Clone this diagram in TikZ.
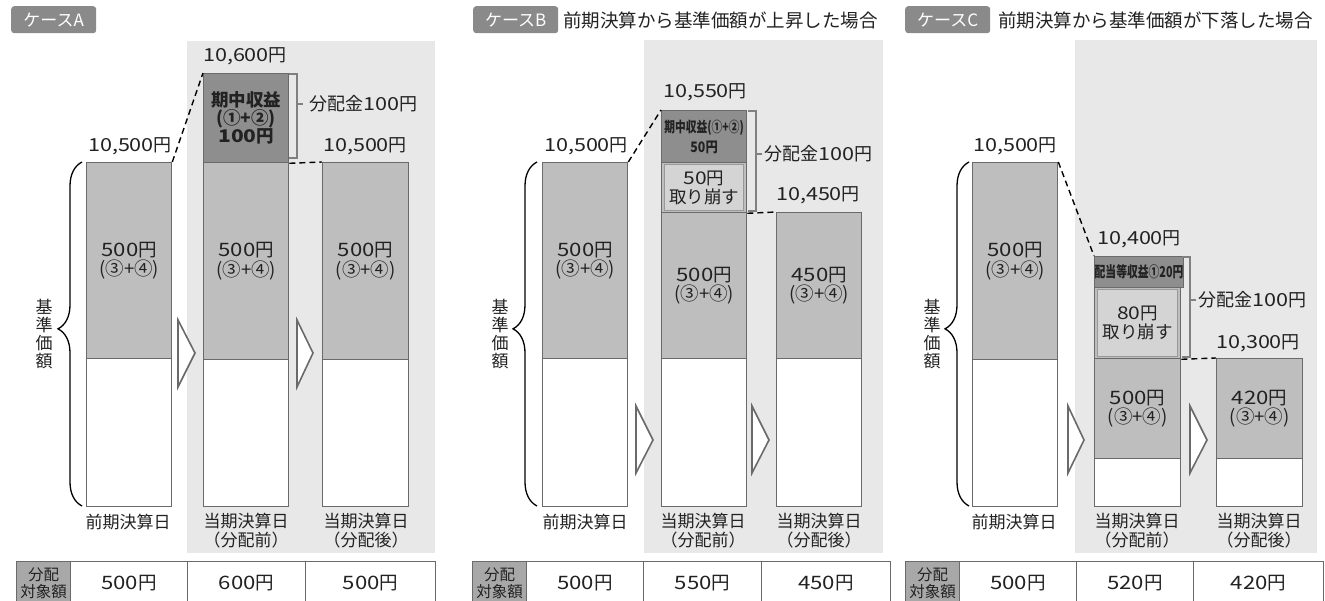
\documentclass[tikz,border=0pt]{standalone}
\usepackage{fontspec}
\setmainfont{Noto Sans CJK JP}
\newfontfamily\wfont[FakeStretch=1.2]{Noto Sans CJK JP}
\usetikzlibrary{decorations.pathreplacing}
\definecolor{bgshade}{HTML}{E8E8E8}
\definecolor{midg}{HTML}{BEBEBE}
\definecolor{darkg}{HTML}{8E8E8E}
\definecolor{lightg}{HTML}{D4D4D4}
\definecolor{tagg}{HTML}{8A8A8A}
\definecolor{lineg}{HTML}{6A6A6A}
\definecolor{hdrg}{HTML}{A8A8A8}
\definecolor{txt}{HTML}{222222}
\newcommand{\fs}[2]{\fontsize{#1}{#2}\selectfont}
\newcommand{\nm}[1]{{\wfont #1}}
\begin{document}
\begin{tikzpicture}[x=1pt,y=-1pt,
  blk/.style={draw=lineg, line width=1.3pt, inner sep=0pt, anchor=north west, align=center, text=txt, font=\fs{18.5}{19.5}},
  midb/.style={blk, fill=midg},
  darkb/.style={blk, fill=darkg},
  whiteb/.style={blk, fill=white},
  cutb/.style={blk, fill=lightg, draw=gray!80, line width=1pt, font=\fs{17.5}{19}},
  val/.style={font=\fs{18}{20}, text=txt, inner sep=0pt},
  dashc/.style={dash pattern=on 6pt off 4pt, line width=1.4pt, black},
  tagbox/.style={fill=tagg, rounded corners=3pt, text=white, font=\fs{17}{19}, minimum height=27pt, minimum width=85pt, inner sep=0pt, anchor=north west},
  title/.style={font=\fs{18.5}{20}, text=txt, inner sep=0pt, anchor=west},
  arr/.style={draw=lineg, line width=1.6pt, fill=white, line join=miter},
  brk/.style={draw=gray, line width=1.2pt},
  bigbrace/.style={decorate, decoration={brace, amplitude=24pt, aspect=0.515}, line width=1.3pt, black},
  vtext/.style={font=\fs{17}{18}, align=center, text=txt, inner sep=0pt},
  dlabel/.style={font=\fs{17}{19}, align=center, text=txt, inner sep=0pt},
  cell/.style={draw=lineg, line width=1pt, inner sep=0pt, anchor=north west, minimum height=44pt, font=\fs{18.5}{20}, text=txt},
  cellh/.style={cell, fill=hdrg, minimum width=54pt, font=\fs{15.5}{17}, align=center}
]
\clip (0,0) rectangle (1325,601);
\fill[white] (0,0) rectangle (1325,601);

% ---------- shaded backgrounds ----------
\fill[bgshade] (187,41) rectangle (435,553);
\fill[bgshade] (644,40) rectangle (883,553);
\fill[bgshade] (1075,40) rectangle (1317,553);

% ---------- headings ----------
\node[tagbox] (tA) at (11,6) {ケースA};
\node[tagbox] (tB) at (473,6) {ケースB};
\node[title] (hB) at (563,20) {前期決算から基準価額が上昇した場合};
\node[tagbox] (tC) at (905,6) {ケースC};
\node[title] (hC) at (998,20) {前期決算から基準価額が下落した場合};

% ================= CASE A =================
\node[midb, minimum width=85pt, minimum height=196pt] (a1m) at (86,162) {\nm{500}円\\(③+④)};
\node[whiteb, minimum width=85pt, minimum height=148pt] (a1w) at (86,358) {};
\node[darkb, minimum width=85pt, minimum height=89pt, font=\bfseries\fs{17.5}{18}] (a2d) at (203,73) {期中収益\\(①+②)\\\nm{100}円};
\node[midb, minimum width=85pt, minimum height=197pt] (a2m) at (203,162) {\nm{500}円\\(③+④)};
\node[whiteb, minimum width=85pt, minimum height=147pt] (a2w) at (203,359) {};
\node[midb, minimum width=86pt, minimum height=197pt] (a3m) at (322,162) {\nm{500}円\\(③+④)};
\node[whiteb, minimum width=86pt, minimum height=147pt] (a3w) at (322,359) {};

\node[val] (va1) at (130,146) {\nm{10,500}円};
\node[val] (va2) at (245,56) {\nm{10,600}円};
\node[val] (va3) at (365,146) {\nm{10,500}円};

\draw[dashc] (a1m.north east) -- (a2d.north west);
\draw[dashc] (a2d.south east) -- (a3m.north west);

\draw[brk] (289,74) -- (297,74) -- (297,158) -- (289,158);
\draw[brk] (297,104) -- (303,104);
\node[val, anchor=west] (da) at (309,104) {分配金\nm{100}円};

\draw[arr] (178,320) -- (195,353) -- (178,387) -- cycle;
\draw[arr] (297,320) -- (313,353) -- (297,387) -- cycle;

\draw[bigbrace] (82,506) -- (82,162);
\node[vtext] (ka) at (44,334) {基\\準\\価\\額};

\node[dlabel] (la1) at (128,522) {前期決算日};
\node[dlabel] (la2) at (246,531) {当期決算日\\（分配前）};
\node[dlabel] (la3) at (366,531) {当期決算日\\（分配後）};

\node[cellh] (ta0) at (16,561) {分配\\対象額};
\node[cell, minimum width=117pt] (ta1) at (70,561) {\nm{500}円};
\node[cell, minimum width=118pt] (ta2) at (187,561) {\nm{600}円};
\node[cell, minimum width=130pt] (ta3) at (305,561) {\nm{500}円};

% ================= CASE B =================
\node[midb, minimum width=85pt, minimum height=196pt] (b1m) at (542,162) {\nm{500}円\\(③+④)};
\node[whiteb, minimum width=85pt, minimum height=148pt] (b1w) at (542,358) {};
\node[darkb, minimum width=85pt, minimum height=52pt, font=\bfseries\fs{14.5}{20}] (b2d) at (661,110) {\scalebox{0.74}[1]{期中収益(①+②)}\\\scalebox{0.85}[1]{50円}};
\node[midb, minimum width=85pt, minimum height=50pt] (b2f) at (661,162) {};
\node[cutb, minimum width=79pt, minimum height=46pt] (b2c) at (664,164) {\nm{50}円\\取り崩す};
\node[midb, minimum width=85pt, minimum height=146pt] (b2m) at (661,212) {\nm{500}円\\(③+④)};
\node[whiteb, minimum width=85pt, minimum height=148pt] (b2w) at (661,358) {};
\node[midb, minimum width=85pt, minimum height=146pt] (b3m) at (776,212) {\nm{450}円\\(③+④)};
\node[whiteb, minimum width=85pt, minimum height=148pt] (b3w) at (776,358) {};

\node[val] (vb1) at (586,146) {\nm{10,500}円};
\node[val] (vb2) at (705,92) {\nm{10,550}円};
\node[val] (vb3) at (818,195) {\nm{10,450}円};

\draw[dashc] (b1m.north east) -- (b2d.north west);
\draw[dashc] (b2f.south east) -- (b3m.north west);

\draw[brk] (748,111) -- (756,111) -- (756,211) -- (748,211);
\draw[brk] (756,154) -- (762,154);
\node[val, anchor=west] (db) at (764,154) {分配金\nm{100}円};

\draw[arr] (636,406) -- (653,440) -- (636,473) -- cycle;
\draw[arr] (752,406) -- (769,440) -- (752,473) -- cycle;

\draw[bigbrace] (537,506) -- (537,162);
\node[vtext] (kb) at (500,334) {基\\準\\価\\額};

\node[dlabel] (lb1) at (585,522) {前期決算日};
\node[dlabel] (lb2) at (703,531) {当期決算日\\（分配前）};
\node[dlabel] (lb3) at (819,531) {当期決算日\\（分配後）};

\node[cellh] (tb0) at (472,561) {分配\\対象額};
\node[cell, minimum width=117pt] (tb1) at (526,561) {\nm{500}円};
\node[cell, minimum width=118pt] (tb2) at (643,561) {\nm{550}円};
\node[cell, minimum width=129pt] (tb3) at (761,561) {\nm{450}円};

% ================= CASE C =================
\node[midb, minimum width=85pt, minimum height=197pt] (c1m) at (972,162) {\nm{500}円\\(③+④)};
\node[whiteb, minimum width=85pt, minimum height=147pt] (c1w) at (972,359) {};
\node[darkb, minimum width=86pt, minimum height=31pt, font=\bfseries] (c2d) at (1094,256) {\scalebox{0.72}[1]{\fs{15}{16}配当等収益①20円}};
\node[midb, minimum width=86pt, minimum height=71pt] (c2f) at (1094,287) {};
\node[cutb, minimum width=80pt, minimum height=67pt] (c2c) at (1097,289) {\nm{80}円\\取り崩す};
\node[midb, minimum width=86pt, minimum height=100pt] (c2m) at (1094,358) {\nm{500}円\\(③+④)};
\node[whiteb, minimum width=86pt, minimum height=48pt] (c2w) at (1094,458) {};
\node[midb, minimum width=86pt, minimum height=100pt] (c3m) at (1216,358) {\nm{420}円\\(③+④)};
\node[whiteb, minimum width=86pt, minimum height=48pt] (c3w) at (1216,458) {};

\node[val] (vc1) at (1015,146) {\nm{10,500}円};
\node[val] (vc2) at (1139,239) {\nm{10,400}円};
\node[val] (vc3) at (1258,343) {\nm{10,300}円};

\draw[dashc] (c1m.north east) -- (c2d.north west);
\draw[dashc] (c2f.south east) -- (c3m.north west);

\draw[brk] (1182,257) -- (1190,257) -- (1190,357) -- (1182,357);
\draw[brk] (1190,300) -- (1196,300);
\node[val, anchor=west] (dc) at (1198,300) {分配金\nm{100}円};

\draw[arr] (1068,406) -- (1084,440) -- (1068,473) -- cycle;
\draw[arr] (1190,406) -- (1207,440) -- (1190,473) -- cycle;

\draw[bigbrace] (969,506) -- (969,162);
\node[vtext] (kc) at (932,334) {基\\準\\価\\額};

\node[dlabel] (lc1) at (1014,522) {前期決算日};
\node[dlabel] (lc2) at (1137,531) {当期決算日\\（分配前）};
\node[dlabel] (lc3) at (1259,531) {当期決算日\\（分配後）};

\node[cellh] (tc0) at (905,561) {分配\\対象額};
\node[cell, minimum width=117pt] (tc1) at (959,561) {\nm{500}円};
\node[cell, minimum width=117pt] (tc2) at (1076,561) {\nm{520}円};
\node[cell, minimum width=130pt] (tc3) at (1193,561) {\nm{420}円};
\end{tikzpicture}
\end{document}
